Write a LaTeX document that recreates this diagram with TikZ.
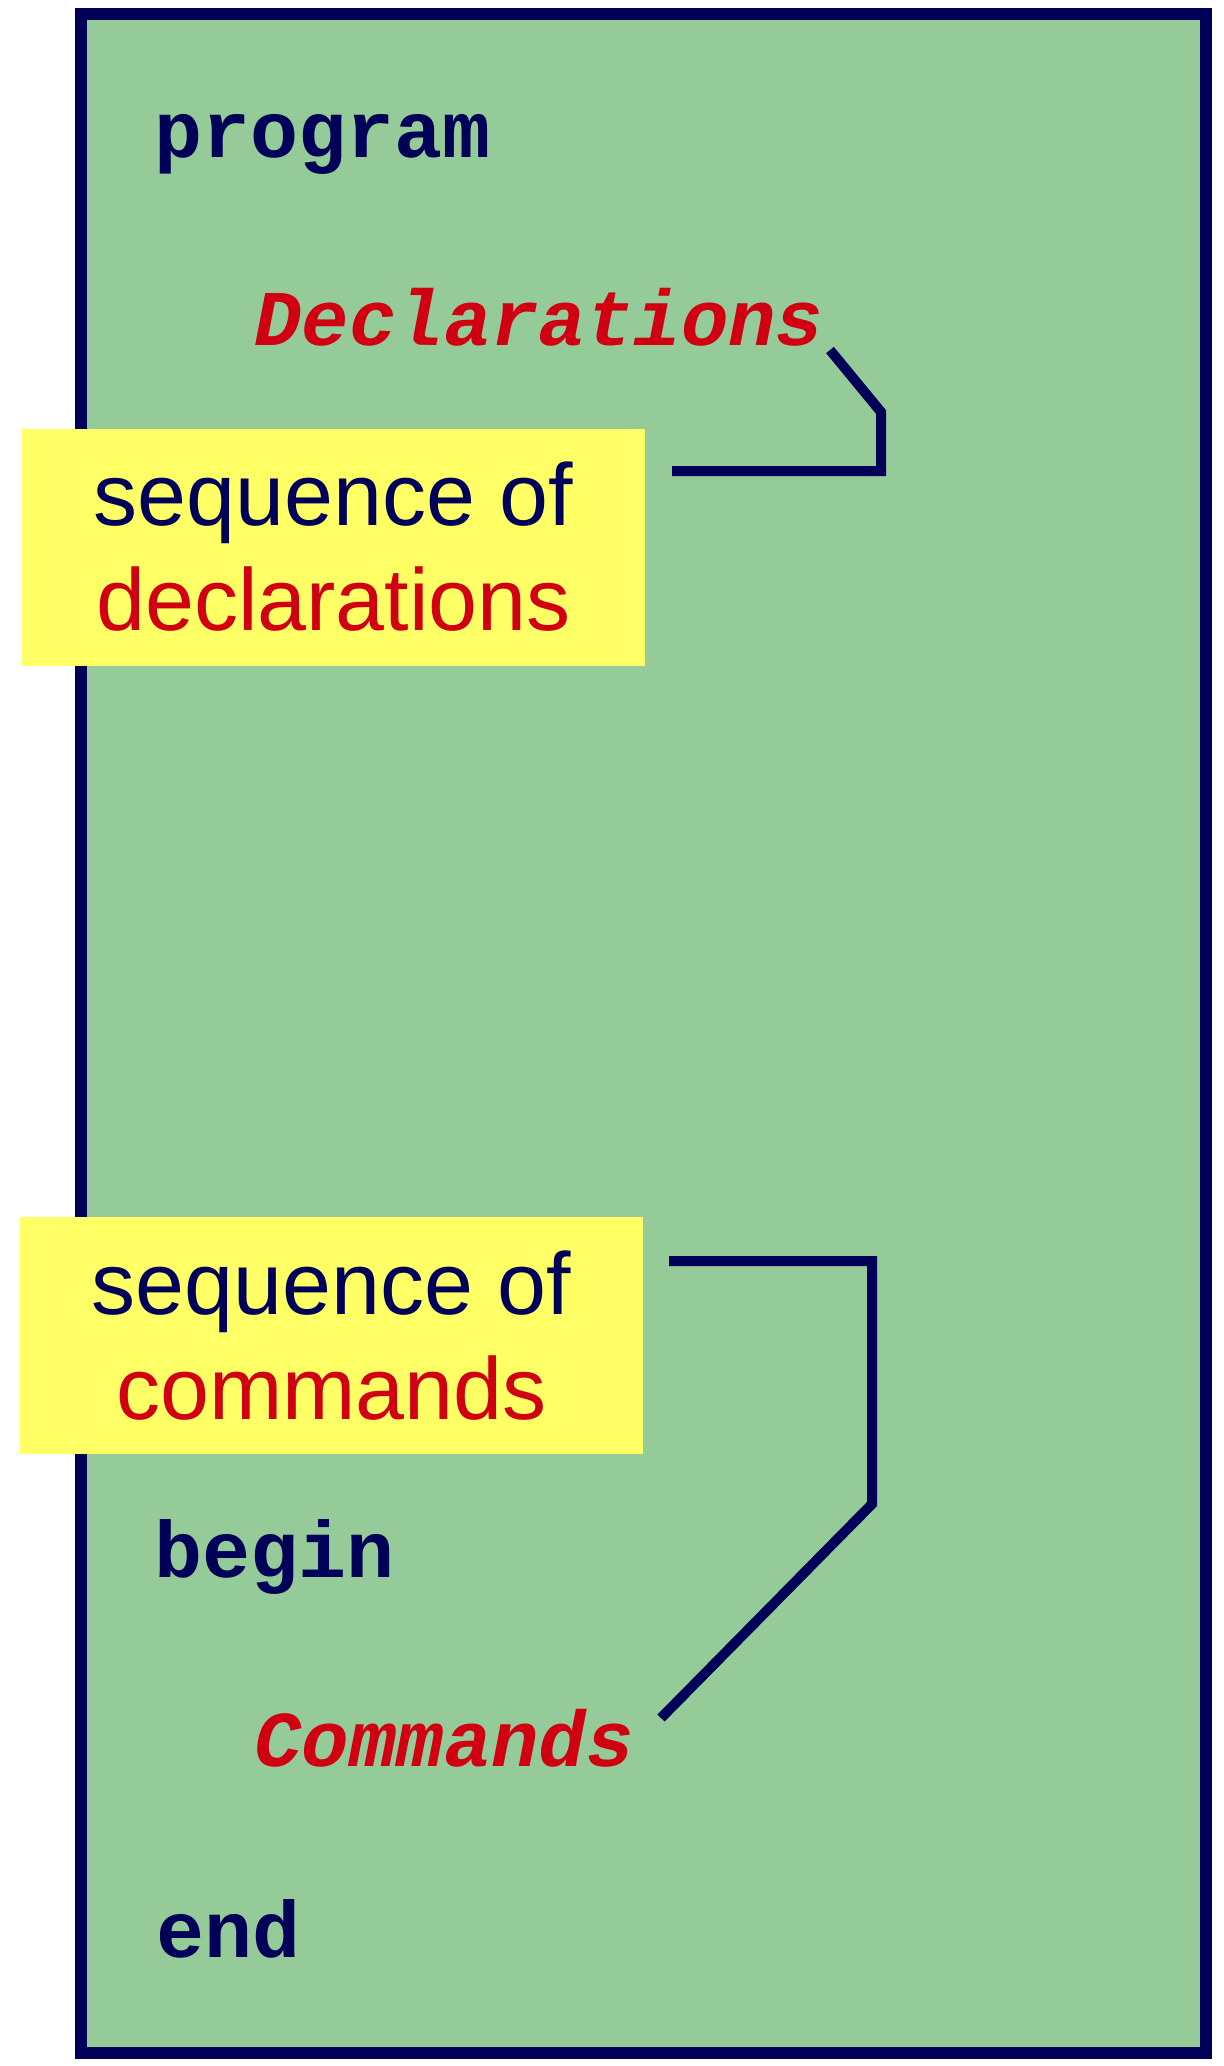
\documentclass[tikz,border=0pt]{standalone}
\usepackage{fontspec}
\setmainfont{Liberation Sans}
\newfontfamily\codefont{Liberation Mono}
\definecolor{navyc}{RGB}{0,0,88}
\definecolor{redc}{RGB}{208,0,18}
\definecolor{yellowc}{RGB}{255,255,102}
\definecolor{greenc}{RGB}{149,203,153}
\tikzset{
  frame/.style={draw=navyc, fill=greenc, line width=6pt, line join=miter},
  kw/.style={anchor=base west, inner sep=0pt, text=navyc, font=\codefont\bfseries\fontsize{40}{48}\selectfont},
  ph/.style={anchor=base west, inner sep=0pt, text=redc, font=\codefont\bfseries\itshape\fontsize{39.5}{48}\selectfont},
  note/.style={fill=yellowc, draw=none, minimum width=311.5pt, minimum height=118.5pt, inner sep=0pt, align=center, text=navyc, font=\fontsize{44}{52.5}\selectfont},
  link/.style={draw=navyc, line width=5pt, line join=miter}
}
\begin{document}
\begin{tikzpicture}[x=0.5pt,y=-0.5pt]
\useasboundingbox (0,0) rectangle (1224,2066);
\draw[frame] (81,14) rectangle (1206,2053);
\node[kw] (program) at (154,157) {program};
\node[ph] (decl) at (254,345) {Declarations};
\node[kw] (begin) at (154,1577) {begin};
\node[ph] (cmds) at (254,1766) {Commands};
\node[kw] (end) at (156,1957) {end};
\node[note] (seqdecl) at (333.5,547) {sequence of\\\textcolor{redc}{declarations}};
\node[note] (seqcmd) at (331.5,1335.5) {sequence of\\\textcolor{redc}{commands}};
\coordinate (d1) at (830,350);
\coordinate (d2) at (881,412);
\coordinate (d3) at (881,471);
\coordinate (d4) at (672,471);
\coordinate (c1) at (669,1261);
\coordinate (c2) at (872,1261);
\coordinate (c3) at (872,1504);
\coordinate (c4) at (661,1718);
\draw[link] (d1) -- (d2) -- (d3) -- (d4);
\draw[link] (c1) -- (c2) -- (c3) -- (c4);
\end{tikzpicture}
\end{document}
